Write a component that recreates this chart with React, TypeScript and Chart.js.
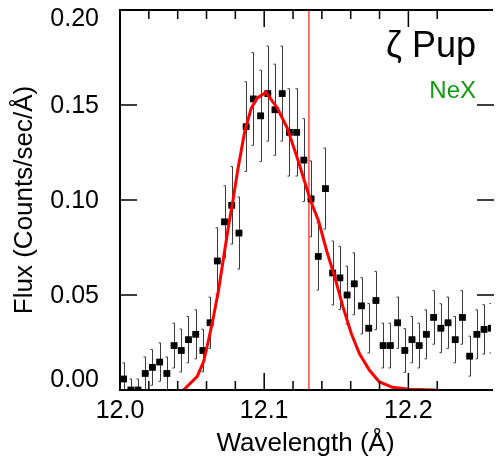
import React, { useEffect, useRef } from 'react';
import { Chart, registerables } from 'chart.js';

Chart.register(...registerables);

// Observed spectrum (bin centres, Å), flux (counts/sec/Å) and 1-sigma errors
const wavelength = [
  12.0025, 12.0075, 12.0125, 12.0175, 12.0225, 12.0275, 12.0325, 12.0375, 12.0425, 12.0475,
  12.0525, 12.0575, 12.0625, 12.0675, 12.0725, 12.0775, 12.0825, 12.0875, 12.0925, 12.0975,
  12.1025, 12.1075, 12.1125, 12.1175, 12.1225, 12.1275, 12.1325, 12.1375, 12.1425, 12.1475,
  12.1525, 12.1575, 12.1625, 12.1675, 12.1725, 12.1775, 12.1825, 12.1875, 12.1925, 12.1975,
  12.2025, 12.2075, 12.2125, 12.2175, 12.2225, 12.2275, 12.2325, 12.2375, 12.2425, 12.2475,
  12.2525, 12.2575,
];
const flux = [
  0.0058, 0.0, 0.0, 0.0087, 0.0119, 0.0147, 0.0087, 0.0234, 0.0208, 0.0265,
  0.0293, 0.0208, 0.0354, 0.0679, 0.0885, 0.0972, 0.0826, 0.1386, 0.1532, 0.1443,
  0.156, 0.1475, 0.156, 0.1356, 0.1356, 0.121, 0.1006, 0.0703, 0.106, 0.0616,
  0.059, 0.05, 0.0559, 0.0443, 0.0325, 0.0471, 0.0234, 0.0234, 0.0354, 0.0208,
  0.0265, 0.0234, 0.0293, 0.0382, 0.0325, 0.0354, 0.0265, 0.0382, 0.0178, 0.0293,
  0.0319, 0.0325,
];
const fluxErr = [
  0.0085, 0.0058, 0.0058, 0.0087, 0.0094, 0.0101, 0.0087, 0.0118, 0.0113, 0.0122,
  0.0129, 0.0112, 0.0135, 0.0175, 0.019, 0.0204, 0.019, 0.0236, 0.0244, 0.024,
  0.025, 0.024, 0.025, 0.023, 0.023, 0.0218, 0.02, 0.0177, 0.0213, 0.0168,
  0.0166, 0.0152, 0.0163, 0.0148, 0.013, 0.0153, 0.0118, 0.0118, 0.0135, 0.0115,
  0.0122, 0.0118, 0.0129, 0.0141, 0.0129, 0.0135, 0.0122, 0.0141, 0.0105, 0.0129,
  0.013, 0.013,
];
const binHalfWidth = 0.0025;

// Model line profile
const modelWavelength = [
  12.044, 12.0535, 12.058, 12.0614, 12.0648, 12.0683, 12.0717, 12.0751, 12.0785, 12.0819,
  12.0865, 12.091, 12.0951, 12.1012, 12.1092, 12.116, 12.1229, 12.1319, 12.1377, 12.1433,
  12.149, 12.1547, 12.1604, 12.166, 12.1729, 12.1797, 12.1889, 12.2002, 12.2184,
];
const modelFlux = [
  0.0, 0.007, 0.015, 0.0262, 0.0384, 0.0524, 0.069, 0.0855, 0.1005, 0.1169,
  0.1361, 0.1483, 0.1536, 0.1567, 0.1483, 0.1379, 0.1222, 0.1003, 0.089, 0.0733,
  0.0593, 0.0436, 0.0297, 0.0192, 0.0105, 0.0044, 0.0014, 0.0004, 0.0,
];

const restWavelength = 12.131;
const xMin = 12.0;
const xMax = 12.2573;
const yMin = 0;
const yMax = 0.2;
const xMajorLabels = ['12.0', '12.1', '12.2'];
const yTickLabels = ['0.00', '0.05', '0.10', '0.15', '0.20'];
const starName = 'ζ Pup';
const ionName = 'NeX';
const xTitle = 'Wavelength (Å)';
const yTitle = 'Flux (Counts/sec/Å)';

const FONT = '"Liberation Sans", Arial, Helvetica, sans-serif';

const isMultiple = (v: number, step: number) => {
  const r = v / step;
  return Math.abs(r - Math.round(r)) < 1e-4;
};

const decorPlugin = {
  id: 'decor',
  beforeDatasetsDraw(chart: any) {
    const { ctx, chartArea } = chart;
    const xs = chart.scales.x;
    const ys = chart.scales.y;
    ctx.save();
    ctx.beginPath();
    ctx.rect(chartArea.left, chartArea.top, chartArea.right - chartArea.left, chartArea.bottom - chartArea.top);
    ctx.clip();
    // rest wavelength line
    const rx = xs.getPixelForValue(restWavelength);
    ctx.strokeStyle = '#ff5050';
    ctx.lineWidth = 1.6;
    ctx.beginPath();
    ctx.moveTo(rx, chartArea.top);
    ctx.lineTo(rx, chartArea.bottom);
    ctx.stroke();
    // error bars
    ctx.strokeStyle = '#3a3a3a';
    ctx.lineWidth = 1;
    for (let i = 0; i < wavelength.length; i++) {
      const px = Math.round(xs.getPixelForValue(wavelength[i])) + 0.5;
      const y1 = ys.getPixelForValue(flux[i] - fluxErr[i]);
      const y2 = ys.getPixelForValue(flux[i] + fluxErr[i]);
      const py = ys.getPixelForValue(flux[i]);
      const xa = xs.getPixelForValue(wavelength[i] - binHalfWidth);
      const xb = xs.getPixelForValue(wavelength[i] + binHalfWidth);
      ctx.beginPath();
      ctx.moveTo(px, y1);
      ctx.lineTo(px, y2);
      ctx.moveTo(px, y1);
      ctx.lineTo(px - 2, y1);
      ctx.moveTo(px, y2);
      ctx.lineTo(px - 2, y2);
      ctx.moveTo(xa, py);
      ctx.lineTo(xb, py);
      ctx.stroke();
    }
    ctx.restore();
  },
  afterDraw(chart: any) {
    const { ctx, chartArea } = chart;
    const xs = chart.scales.x;
    const ys = chart.scales.y;
    const { left, right, top, bottom } = chartArea;
    ctx.save();
    // frame (left, top, bottom)
    ctx.strokeStyle = '#000';
    ctx.lineWidth = 2;
    ctx.beginPath();
    ctx.moveTo(right + 2, top);
    ctx.lineTo(left, top);
    ctx.lineTo(left, bottom);
    ctx.lineTo(right + 2, bottom);
    ctx.stroke();
    // x ticks (inward, top and bottom)
    ctx.lineWidth = 1.5;
    ctx.beginPath();
    xs.ticks.forEach((t: any) => {
      if (!isMultiple(t.value, 0.02)) return;
      const px = xs.getPixelForValue(t.value);
      if (px <= left + 1 || px > right) return;
      const len = isMultiple(t.value, 0.1) ? 17 : 9;
      ctx.moveTo(px, bottom);
      ctx.lineTo(px, bottom - len);
      ctx.moveTo(px, top);
      ctx.lineTo(px, top + len);
    });
    // y ticks (inward, left and right)
    ys.ticks.forEach((t: any) => {
      const py = ys.getPixelForValue(t.value);
      if (py <= top + 1 || py >= bottom - 1) return;
      ctx.moveTo(left, py);
      ctx.lineTo(left + 17, py);
      ctx.moveTo(right + 3, py);
      ctx.lineTo(right + 3 - 17, py);
    });
    ctx.stroke();
    // y tick labels
    ctx.fillStyle = '#000';
    ctx.font = `25px ${FONT}`;
    ctx.textAlign = 'right';
    ctx.textBaseline = 'middle';
    ys.ticks.forEach((t: any, i: number) => {
      const py = ys.getPixelForValue(t.value);
      const y = Math.min(Math.max(py + 1, top + 9), bottom - 10);
      ctx.fillText(yTickLabels[i] ?? t.value.toFixed(2), left - 21, y);
    });
    // annotations
    ctx.textAlign = 'right';
    ctx.textBaseline = 'alphabetic';
    ctx.font = `36px ${FONT}`;
    ctx.fillStyle = '#000';
    ctx.fillText(starName, 476, 57);
    ctx.font = `24px ${FONT}`;
    ctx.fillStyle = '#109a10';
    ctx.fillText(ionName, 476, 98);
    ctx.restore();
  },
};

export default function App() {
  const ref = useRef<HTMLCanvasElement | null>(null);

  useEffect(() => {
    if (!ref.current) return;
    const chart = new Chart(ref.current, {
      type: 'scatter',
      data: {
        datasets: [
          {
            type: 'line',
            label: 'model',
            data: modelWavelength.map((w, i) => ({ x: w, y: modelFlux[i] })),
            borderColor: '#ff0000',
            borderWidth: 3,
            pointRadius: 0,
            tension: 0,
            fill: false,
          } as any,
          {
            label: 'data',
            data: wavelength.map((w, i) => ({ x: w, y: flux[i] })),
            pointStyle: 'rect',
            pointRadius: 4.8,
            pointBackgroundColor: '#000',
            pointBorderWidth: 0,
            borderColor: '#000',
            backgroundColor: '#000',
          },
        ],
      },
      options: {
        animation: false,
        responsive: false,
        layout: { padding: { top: 10, right: 0, bottom: 0, left: 0 } },
        plugins: { legend: { display: false }, tooltip: { enabled: false } },
        scales: {
          x: {
            type: 'linear',
            min: xMin,
            max: xMax,
            grid: { display: false, drawTicks: false },
            border: { display: false },
            ticks: {
              stepSize: 0.02,
              autoSkip: false,
              maxRotation: 0,
              padding: 6,
              color: '#000',
              font: { family: FONT, size: 25 },
              callback: (v: any) => {
                const n = Number(v);
                if (!isMultiple(n, 0.1)) return '';
                const idx = Math.round((n - xMin) * 10);
                return xMajorLabels[idx] ?? n.toFixed(1);
              },
            },
            title: {
              display: true,
              text: xTitle,
              color: '#000',
              font: { family: FONT, size: 26 },
              padding: { top: 0, bottom: 1 },
            },
            afterFit: (s: any) => {
              s.height = 70;
            },
          },
          y: {
            type: 'linear',
            min: yMin,
            max: yMax,
            grid: { display: false, drawTicks: false },
            border: { display: false },
            ticks: { stepSize: 0.05, display: false },
            title: {
              display: true,
              text: yTitle,
              color: '#000',
              font: { family: FONT, size: 26 },
              padding: { top: 9, bottom: 0 },
            },
            afterFit: (s: any) => {
              s.width = 120;
            },
          },
        },
      },
      plugins: [decorPlugin],
    });
    return () => chart.destroy();
  }, []);

  return (
    <div style={{ position: 'absolute', left: 0, top: 0, width: 497, height: 460, background: '#fff' }}>
      <canvas ref={ref} width={497} height={460} style={{ display: 'block' }} />
    </div>
  );
}
